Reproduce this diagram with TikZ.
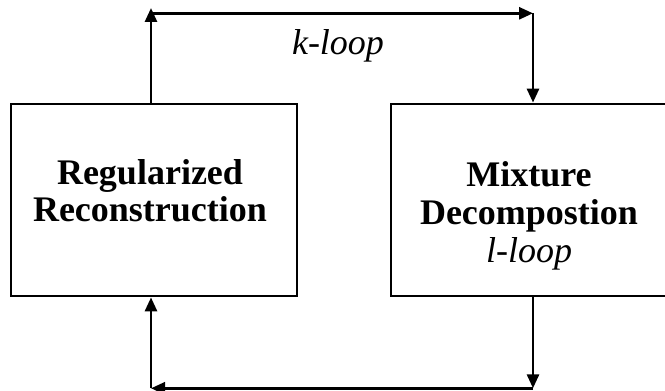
\documentclass[tikz,border=0pt]{standalone}
\usepackage{fontspec}
\setmainfont{Liberation Serif}
\usetikzlibrary{arrows.meta}

\tikzset{
  block/.style = {draw, line width=2.8pt, minimum width=#1, minimum height=192pt, inner sep=0pt},
  title/.style = {anchor=base, inner sep=0pt, font=\fontsize{36}{38}\selectfont\bfseries},
  loopname/.style = {anchor=base, inner sep=0pt, font=\fontsize{36}{38}\selectfont\itshape},
  flow/.style = {line width=2.8pt, -{Triangle[length=14pt, width=12pt]}}
}

\begin{document}
\begin{tikzpicture}[x=1pt, y=1pt]
  \useasboundingbox (0,0) rectangle (665,391);

  % the two blocks
  \node [block=286pt] (rec) at (154,191) {};
  \node [block=276pt] (dec) at (529,191) {};

  \node [title] (recA) at (150,206) {Regularized};
  \node [title] (recB) at (150,169) {Reconstruction};
  \node [title] (decA) at (529,204) {Mixture};
  \node [title] (decB) at (529,166) {Decompostion};
  \node [loopname] (lloop) at (529,128) {l-loop};
  \node [loopname] (kloop) at (338,336) {k-loop};

  % corners of the outer loop
  \coordinate (tl) at (151,377.7);
  \coordinate (tltip) at (151,383);
  \coordinate (tr) at (533,377.7);
  \coordinate (bl) at (151,2.7);
  \coordinate (br) at (533,2.7);

  % k-loop, over the top
  \draw [flow] (rec.north -| tl) -- (tltip);
  \draw [flow] (tl) -- (tr);
  \draw [flow] (tr) -- (tr |- dec.north);

  % back along the bottom
  \draw [flow] (dec.south -| br) -- (br);
  \draw [flow] (br) -- (bl);
  \draw [flow] (bl) -- (bl |- rec.south);
\end{tikzpicture}
\end{document}
